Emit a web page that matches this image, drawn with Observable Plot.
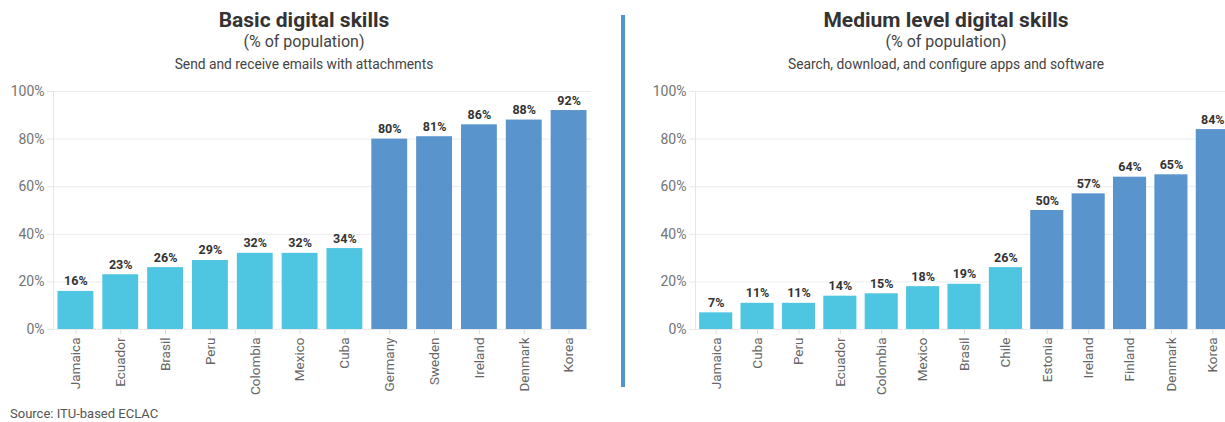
<!DOCTYPE html>
<html><head><meta charset="utf-8">
<script src="https://cdn.jsdelivr.net/npm/d3@7"></script>
<script src="https://cdn.jsdelivr.net/npm/@observablehq/plot@0.6"></script>
<style>
body{margin:0;width:1225px;height:422px;overflow:hidden;background:#fff;font-family:Roboto,"Noto Sans",sans-serif;position:relative;color:#333}
.panel{position:absolute;top:0;width:608px;height:422px}
.t{position:absolute;left:0;width:608px;text-align:center;white-space:nowrap}
.t1{top:8px;font-size:21px;line-height:24px;font-weight:700;color:#333}
.t2{top:32px;font-size:16px;line-height:20px;color:#444}
.t3{top:56px;font-size:13.8px;line-height:16px;color:#444}
.chart{position:absolute;left:0;top:80px}
#divider{position:absolute;left:621px;top:15px;width:4px;height:372px;background:#5593d3}
#source{position:absolute;left:10px;top:406px;font-size:13px;line-height:16px;color:#555}
</style></head>
<body>
<div class="panel" id="left">
  <div class="t t1">Basic digital skills</div>
  <div class="t t2">(% of population)</div>
  <div class="t t3">Send and receive emails with attachments</div>
  <div class="chart" id="chartL"></div>
</div>
<div id="divider"></div>
<div class="panel" id="right" style="left:642px">
  <div class="t t1">Medium level digital skills</div>
  <div class="t t2">(% of population)</div>
  <div class="t t3">Search, download, and configure apps and software</div>
  <div class="chart" id="chartR"></div>
</div>
<div id="source">Source: ITU-based ECLAC</div>
<script>
// Basic digital skills
const basicCountries = ["Jamaica","Ecuador","Brasil","Peru","Colombia","Mexico","Cuba","Germany","Sweden","Ireland","Denmark","Korea"];
const basicValues = [16,23,26,29,32,32,34,80,81,86,88,92];
const basicGroups = ["LAC","LAC","LAC","LAC","LAC","LAC","LAC","OECD","OECD","OECD","OECD","OECD"];

// Medium level digital skills
const mediumCountries = ["Jamaica","Cuba","Peru","Ecuador","Colombia","Mexico","Brasil","Chile","Estonia","Ireland","Finland","Denmark","Korea"];
const mediumValues = [7,11,11,14,15,18,19,26,50,57,64,65,84];
const mediumGroups = ["LAC","LAC","LAC","LAC","LAC","LAC","LAC","LAC","OECD","OECD","OECD","OECD","OECD"];

const yTicks = [0,20,40,60,80,100];
const groupDomain = ["LAC","OECD"];
const groupColors = ["#4fc6e1","#5a94cc"];

function chart(countries, values, groups) {
  const data = countries.map((c,i) => ({country:c, value:values[i], group:groups[i]}));
  return Plot.plot({
    width: 608, height: 339,
    marginTop: 11, marginBottom: 90, marginLeft: 53, marginRight: 17,
    style: {fontFamily: 'Roboto, "Noto Sans", sans-serif', fontSize: "13px", background: "transparent"},
    x: {domain: countries, paddingInner: 0.2, paddingOuter: 0.1, round: false, label: null},
    y: {domain: [0,100], label: null},
    color: {domain: groupDomain, range: groupColors},
    marks: [
      Plot.gridY(yTicks, {stroke: "#ebebeb", strokeOpacity: 1}),
      Plot.axisY({ticks: yTicks, tickFormat: d => d + "%", tickSize: 6, tickPadding: 3, stroke: "#e6e6e6", fill: "#737373", fontSize: 14, label: null}),
      Plot.frame({anchor: "left", stroke: "#e6e6e6"}),
      Plot.barY(data, {x: "country", y: "value", fill: "group"}),
      Plot.text(data, {x: "country", y: "value", text: d => d.value + "%", dy: -10, fontWeight: "bold", fill: "#333", fontSize: 12.5}),
      Plot.axisX({tickRotate: -90, tickSize: 5, tickPadding: 3, stroke: "#dddddd", fill: "#666", fontSize: 13.5, label: null})
    ]
  });
}
document.getElementById("chartL").append(chart(basicCountries, basicValues, basicGroups));
document.getElementById("chartR").append(chart(mediumCountries, mediumValues, mediumGroups));
</script>
</body></html>
